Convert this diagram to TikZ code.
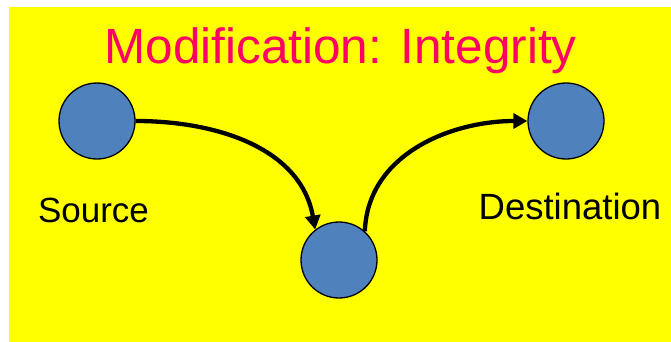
\documentclass[tikz,border=0pt]{standalone}
\usepackage{fontspec}
\setmainfont{Liberation Sans}
\usepackage{xcolor}
\usepackage{tikz}
\usetikzlibrary{arrows.meta,positioning}

\definecolor{hostblue}{HTML}{4F81BD}
\definecolor{titlepink}{HTML}{FF0066}
\definecolor{slideyellow}{HTML}{FFFF00}

\begin{document}
\begin{tikzpicture}[x=1pt,y=1pt, host/.style={circle,draw=black,line width=1.3pt,fill=hostblue,minimum size=76pt,inner sep=0pt}, tag/.style={font=\fontsize{35}{40}\selectfont,inner sep=0pt}, flow/.style={-{Triangle[length=14pt,width=15pt]},line width=4.3pt}]
\useasboundingbox (0,0) rectangle (671,341);
\fill[slideyellow] (9,-1) rectangle (672,334);
\node[font=\fontsize{49.5}{55}\selectfont,text=titlepink,inner sep=0pt,anchor=base] (title) at (340.5,278) {Modification: Integrity};
\node[host] (src) at (97,220) {};
\node[host] (dst) at (566,220) {};
\node[host] (mid) at (339,81) {};
\node[tag,anchor=base] (srctag) at ([xshift=-3.5pt,yshift=-63pt]src.south) {Source};
\node[tag,anchor=base,font=\fontsize{36.5}{40}\selectfont] (dsttag) at ([xshift=4pt,yshift=-60pt]dst.south) {Destination};
\draw[flow] (src.east) to[out=0,in=100] (mid.128);
\draw[flow] (mid.48) to[out=88,in=180] (dst.west);
\end{tikzpicture}
\end{document}
